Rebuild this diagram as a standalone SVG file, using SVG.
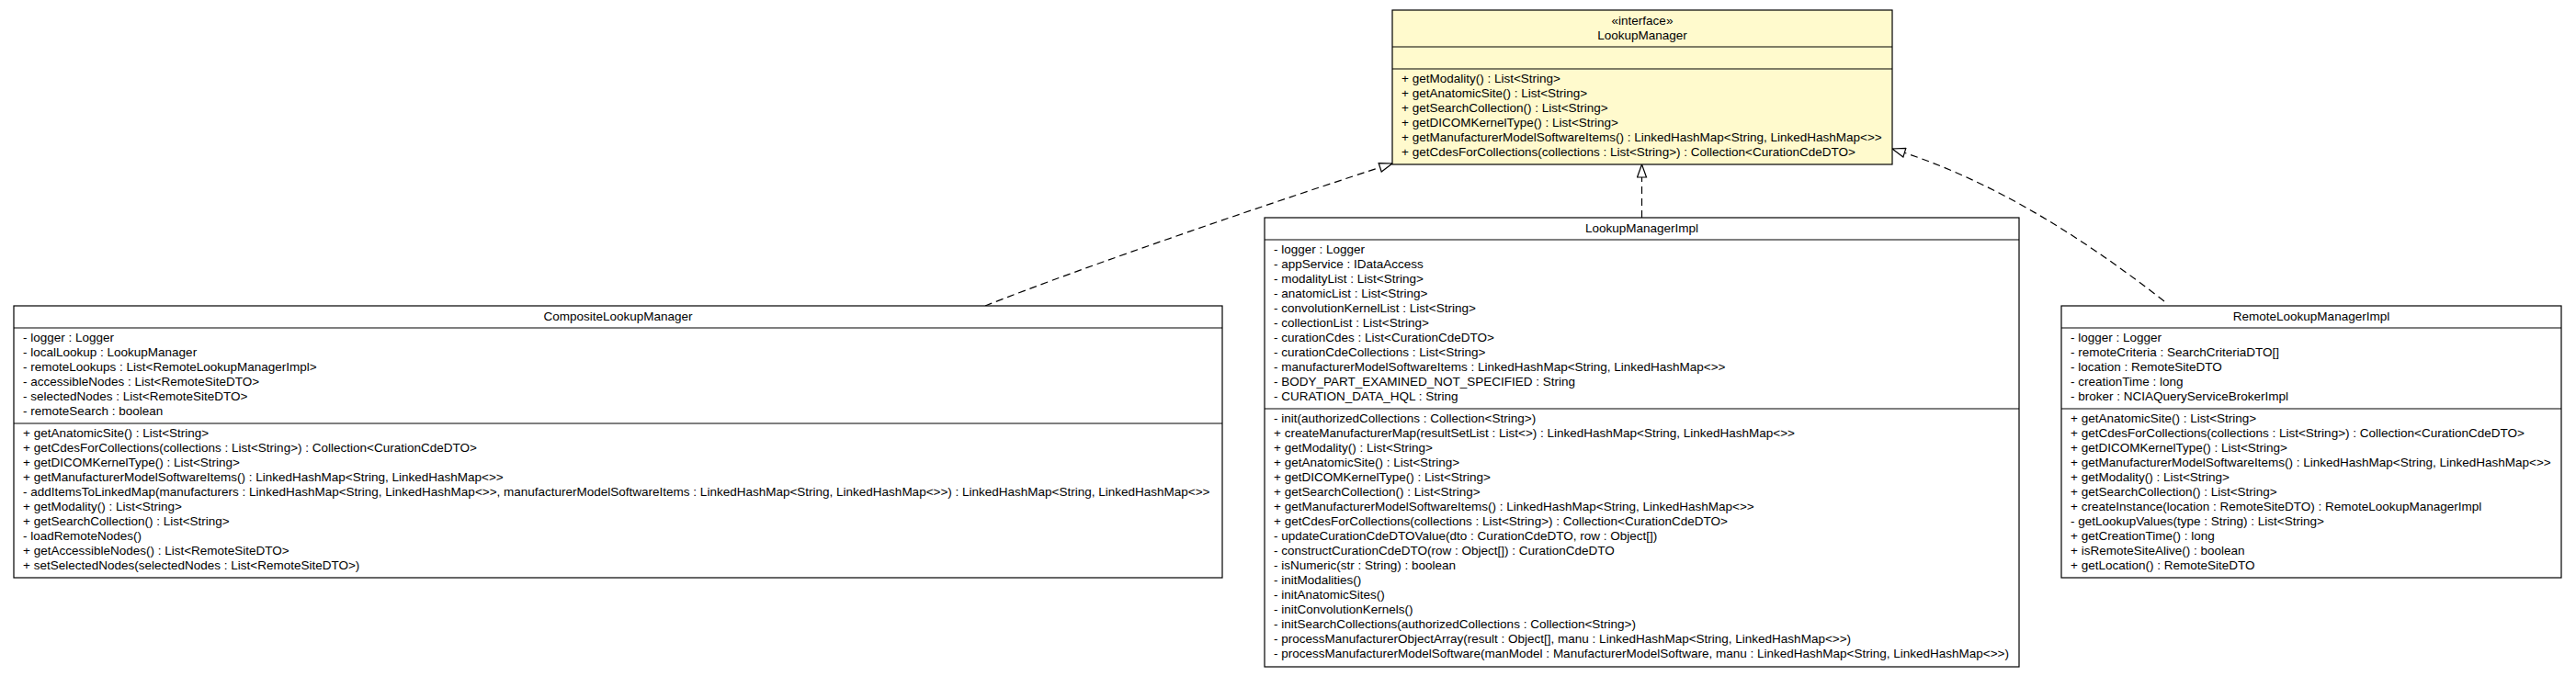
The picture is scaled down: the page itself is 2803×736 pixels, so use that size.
<svg xmlns="http://www.w3.org/2000/svg" width="2803" height="736" viewBox="0 0 2803 736">
<style>
.box{fill:#ffffff;stroke:#000000;stroke-width:1.2}
.iface{fill:#fffacd;stroke:#000000;stroke-width:1.2}
.sep{stroke:#000000;stroke-width:1.2}
text{font-family:"Liberation Sans",Arial,sans-serif;font-size:13.5px;fill:#000000}
.c{text-anchor:middle}
.edge{fill:none;stroke:#000000;stroke-width:1.2;stroke-dasharray:8,5}
</style>
<defs>
<marker id="tri" markerUnits="userSpaceOnUse" markerWidth="16" markerHeight="12" refX="14" refY="5" orient="auto" viewBox="-1 -1 16 12">
<path d="M0,0 L14,5 L0,10 Z" fill="#ffffff" stroke="#000000" stroke-width="1.2" stroke-dasharray="none"/>
</marker>
</defs>
<rect x="0" y="0" width="2803" height="736" fill="#ffffff"/>

<g id="connectors">
<path class="edge" d="M1072,333 C1180,290 1400,215 1515,178" marker-end="url(#tri)"/>
<path class="edge" d="M1786.5,237 L1786.5,179" marker-end="url(#tri)"/>
<path class="edge" d="M2355,328 C2255,250 2159,193 2059,162" marker-end="url(#tri)"/>
</g>

<g id="LookupManager">
<rect class="iface" x="1515" y="11" width="544" height="168"/>
<line class="sep" x1="1515" y1="51" x2="2059" y2="51"/>
<line class="sep" x1="1515" y1="75" x2="2059" y2="75"/>
<text class="c" x="1787" y="27">«interface»</text>
<text class="c" x="1787" y="43">LookupManager</text>
<text x="1525" y="90">
<tspan x="1525" dy="0">+ getModality() : List&lt;String&gt;</tspan>
<tspan x="1525" dy="16">+ getAnatomicSite() : List&lt;String&gt;</tspan>
<tspan x="1525" dy="16">+ getSearchCollection() : List&lt;String&gt;</tspan>
<tspan x="1525" dy="16">+ getDICOMKernelType() : List&lt;String&gt;</tspan>
<tspan x="1525" dy="16">+ getManufacturerModelSoftwareItems() : LinkedHashMap&lt;String, LinkedHashMap&lt;&gt;&gt;</tspan>
<tspan x="1525" dy="16">+ getCdesForCollections(collections : List&lt;String&gt;) : Collection&lt;CurationCdeDTO&gt;</tspan>
</text>
</g>

<g id="CompositeLookupManager">
<rect class="box" x="15" y="333" width="1315" height="296"/>
<line class="sep" x1="15" y1="357" x2="1330" y2="357"/>
<line class="sep" x1="15" y1="461" x2="1330" y2="461"/>
<text class="c" x="672.5" y="349">CompositeLookupManager</text>
<text x="25" y="372">
<tspan x="25" dy="0">- logger : Logger</tspan>
<tspan x="25" dy="16">- localLookup : LookupManager</tspan>
<tspan x="25" dy="16">- remoteLookups : List&lt;RemoteLookupManagerImpl&gt;</tspan>
<tspan x="25" dy="16">- accessibleNodes : List&lt;RemoteSiteDTO&gt;</tspan>
<tspan x="25" dy="16">- selectedNodes : List&lt;RemoteSiteDTO&gt;</tspan>
<tspan x="25" dy="16">- remoteSearch : boolean</tspan>
</text>
<text x="25" y="476">
<tspan x="25" dy="0">+ getAnatomicSite() : List&lt;String&gt;</tspan>
<tspan x="25" dy="16">+ getCdesForCollections(collections : List&lt;String&gt;) : Collection&lt;CurationCdeDTO&gt;</tspan>
<tspan x="25" dy="16">+ getDICOMKernelType() : List&lt;String&gt;</tspan>
<tspan x="25" dy="16">+ getManufacturerModelSoftwareItems() : LinkedHashMap&lt;String, LinkedHashMap&lt;&gt;&gt;</tspan>
<tspan x="25" dy="16">- addItemsToLinkedMap(manufacturers : LinkedHashMap&lt;String, LinkedHashMap&lt;&gt;&gt;, manufacturerModelSoftwareItems : LinkedHashMap&lt;String, LinkedHashMap&lt;&gt;&gt;) : LinkedHashMap&lt;String, LinkedHashMap&lt;&gt;&gt;</tspan>
<tspan x="25" dy="16">+ getModality() : List&lt;String&gt;</tspan>
<tspan x="25" dy="16">+ getSearchCollection() : List&lt;String&gt;</tspan>
<tspan x="25" dy="16">- loadRemoteNodes()</tspan>
<tspan x="25" dy="16">+ getAccessibleNodes() : List&lt;RemoteSiteDTO&gt;</tspan>
<tspan x="25" dy="16">+ setSelectedNodes(selectedNodes : List&lt;RemoteSiteDTO&gt;)</tspan>
</text>
</g>

<g id="LookupManagerImpl">
<rect class="box" x="1376" y="237" width="821" height="489"/>
<line class="sep" x1="1376" y1="261" x2="2197" y2="261"/>
<line class="sep" x1="1376" y1="445" x2="2197" y2="445"/>
<text class="c" x="1786.5" y="253">LookupManagerImpl</text>
<text x="1386" y="276">
<tspan x="1386" dy="0">- logger : Logger</tspan>
<tspan x="1386" dy="16">- appService : IDataAccess</tspan>
<tspan x="1386" dy="16">- modalityList : List&lt;String&gt;</tspan>
<tspan x="1386" dy="16">- anatomicList : List&lt;String&gt;</tspan>
<tspan x="1386" dy="16">- convolutionKernelList : List&lt;String&gt;</tspan>
<tspan x="1386" dy="16">- collectionList : List&lt;String&gt;</tspan>
<tspan x="1386" dy="16">- curationCdes : List&lt;CurationCdeDTO&gt;</tspan>
<tspan x="1386" dy="16">- curationCdeCollections : List&lt;String&gt;</tspan>
<tspan x="1386" dy="16">- manufacturerModelSoftwareItems : LinkedHashMap&lt;String, LinkedHashMap&lt;&gt;&gt;</tspan>
<tspan x="1386" dy="16">- BODY_PART_EXAMINED_NOT_SPECIFIED : String</tspan>
<tspan x="1386" dy="16">- CURATION_DATA_HQL : String</tspan>
</text>
<text x="1386" y="460">
<tspan x="1386" dy="0">- init(authorizedCollections : Collection&lt;String&gt;)</tspan>
<tspan x="1386" dy="16">+ createManufacturerMap(resultSetList : List&lt;&gt;) : LinkedHashMap&lt;String, LinkedHashMap&lt;&gt;&gt;</tspan>
<tspan x="1386" dy="16">+ getModality() : List&lt;String&gt;</tspan>
<tspan x="1386" dy="16">+ getAnatomicSite() : List&lt;String&gt;</tspan>
<tspan x="1386" dy="16">+ getDICOMKernelType() : List&lt;String&gt;</tspan>
<tspan x="1386" dy="16">+ getSearchCollection() : List&lt;String&gt;</tspan>
<tspan x="1386" dy="16">+ getManufacturerModelSoftwareItems() : LinkedHashMap&lt;String, LinkedHashMap&lt;&gt;&gt;</tspan>
<tspan x="1386" dy="16">+ getCdesForCollections(collections : List&lt;String&gt;) : Collection&lt;CurationCdeDTO&gt;</tspan>
<tspan x="1386" dy="16">- updateCurationCdeDTOValue(dto : CurationCdeDTO, row : Object[])</tspan>
<tspan x="1386" dy="16">- constructCurationCdeDTO(row : Object[]) : CurationCdeDTO</tspan>
<tspan x="1386" dy="16">- isNumeric(str : String) : boolean</tspan>
<tspan x="1386" dy="16">- initModalities()</tspan>
<tspan x="1386" dy="16">- initAnatomicSites()</tspan>
<tspan x="1386" dy="16">- initConvolutionKernels()</tspan>
<tspan x="1386" dy="16">- initSearchCollections(authorizedCollections : Collection&lt;String&gt;)</tspan>
<tspan x="1386" dy="16">- processManufacturerObjectArray(result : Object[], manu : LinkedHashMap&lt;String, LinkedHashMap&lt;&gt;&gt;)</tspan>
<tspan x="1386" dy="16">- processManufacturerModelSoftware(manModel : ManufacturerModelSoftware, manu : LinkedHashMap&lt;String, LinkedHashMap&lt;&gt;&gt;)</tspan>
</text>
</g>

<g id="RemoteLookupManagerImpl">
<rect class="box" x="2243" y="333" width="544" height="296"/>
<line class="sep" x1="2243" y1="357" x2="2787" y2="357"/>
<line class="sep" x1="2243" y1="445" x2="2787" y2="445"/>
<text class="c" x="2515" y="349">RemoteLookupManagerImpl</text>
<text x="2253" y="372">
<tspan x="2253" dy="0">- logger : Logger</tspan>
<tspan x="2253" dy="16">- remoteCriteria : SearchCriteriaDTO[]</tspan>
<tspan x="2253" dy="16">- location : RemoteSiteDTO</tspan>
<tspan x="2253" dy="16">- creationTime : long</tspan>
<tspan x="2253" dy="16">- broker : NCIAQueryServiceBrokerImpl</tspan>
</text>
<text x="2253" y="460">
<tspan x="2253" dy="0">+ getAnatomicSite() : List&lt;String&gt;</tspan>
<tspan x="2253" dy="16">+ getCdesForCollections(collections : List&lt;String&gt;) : Collection&lt;CurationCdeDTO&gt;</tspan>
<tspan x="2253" dy="16">+ getDICOMKernelType() : List&lt;String&gt;</tspan>
<tspan x="2253" dy="16">+ getManufacturerModelSoftwareItems() : LinkedHashMap&lt;String, LinkedHashMap&lt;&gt;&gt;</tspan>
<tspan x="2253" dy="16">+ getModality() : List&lt;String&gt;</tspan>
<tspan x="2253" dy="16">+ getSearchCollection() : List&lt;String&gt;</tspan>
<tspan x="2253" dy="16">+ createInstance(location : RemoteSiteDTO) : RemoteLookupManagerImpl</tspan>
<tspan x="2253" dy="16">- getLookupValues(type : String) : List&lt;String&gt;</tspan>
<tspan x="2253" dy="16">+ getCreationTime() : long</tspan>
<tspan x="2253" dy="16">+ isRemoteSiteAlive() : boolean</tspan>
<tspan x="2253" dy="16">+ getLocation() : RemoteSiteDTO</tspan>
</text>
</g>
</svg>
